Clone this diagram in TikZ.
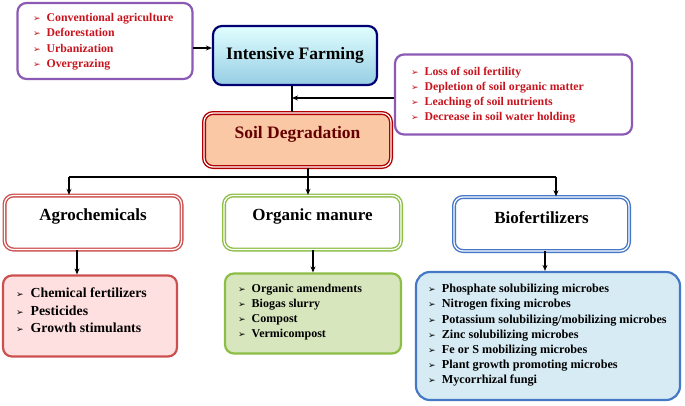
\documentclass[tikz,border=0pt]{standalone}
\usepackage{fontspec}
\setmainfont{Liberation Serif}
\newfontfamily\arrowfont{DejaVu Sans}
\usetikzlibrary{positioning, arrows.meta}
\definecolor{causered}{RGB}{200,20,30}
\definecolor{lilac}{RGB}{140,90,180}
\definecolor{redline}{RGB}{205,80,80}
\definecolor{greenline}{RGB}{140,190,70}
\definecolor{blueline}{RGB}{70,120,200}
\definecolor{peach}{RGB}{250,200,165}
\newcommand{\bul}{{\arrowfont\fontsize{9}{9}\selectfont ➢}\ \ }

\begin{document}
\begin{tikzpicture}[x=1pt, y=-1pt,
        box/.style={rectangle, rounded corners=9pt, line width=2.2pt, inner sep=0pt},
        frame/.style={box, double, double distance=1.2pt, line width=1.4pt, fill=white},
        title/.style={font=\bfseries\fontsize{17}{19}\selectfont},
        list/.style={anchor=north west, align=left, inner sep=0pt},
        arr/.style={-{Stealth[length=6pt,width=5pt]}, line width=1.6pt},
        ln/.style={line width=1.6pt}
    ]
        \useasboundingbox (0,0) rectangle (685,405);
        % causes and effects
        \node[box, draw=lilac, fill=white, minimum width=175pt, minimum height=76pt] (causes) at (105,41) {};
        \node[list, text=causered, font=\bfseries\fontsize{11.8}{15.5}\selectfont] (causetxt) at (33,13)
            {\bul Conventional agriculture\\ \bul Deforestation\\ \bul Urbanization\\ \bul Overgrazing};
        \node[box, draw=blue!45!black, top color=cyan!12, bottom color={rgb,255:red,150;green,205;blue,228}, minimum width=164pt, minimum height=59pt,
              title, font=\bfseries\fontsize{17.5}{19}\selectfont] (farming) at (295,55.5) {Intensive Farming};
        \node[box, draw=lilac, fill=white, minimum width=237pt, minimum height=80pt] (effects) at (513.5,94.5) {};
        \node[list, text=causered, font=\bfseries\fontsize{11.8}{15}\selectfont] (effecttxt) at (411,67)
            {\bul Loss of soil fertility\\ \bul Depletion of soil organic matter\\ \bul Leaching of soil nutrients\\ \bul Decrease in soil water holding};
        \node[frame, draw=red!70!black, fill=peach, minimum width=187pt, minimum height=54pt] (soil) at (297.5,140) {};
        \node[title, text=red!40!black, font=\bfseries\fontsize{17.5}{19}\selectfont] (soiltitle) at (297.5,134) {Soil Degradation};
        % three groups
        \node[frame, draw=redline, minimum width=177pt, minimum height=54pt] (agro) at (93,222.5) {};
        \node[title] (agrotitle) at (93,216) {Agrochemicals};
        \node[frame, draw=greenline, minimum width=177pt, minimum height=54pt] (organic) at (312.5,222.5) {};
        \node[title] (orgtitle) at (312.5,216) {Organic manure};
        \node[frame, draw=blueline, minimum width=175pt, minimum height=54pt] (bio) at (541.5,224) {};
        \node[title] (biotitle) at (541.5,218) {Biofertilizers};
        \node[box, draw=redline, fill=red!12, minimum width=174pt, minimum height=81pt] (agrolist) at (90,316) {};
        \node[list, font=\bfseries\fontsize{13.8}{17.5}\selectfont] (agrotxt) at (16,288)
            {\bul Chemical fertilizers\\ \bul Pesticides\\ \bul Growth stimulants};
        \node[box, draw=greenline, fill={rgb,255:red,215;green,230;blue,188}, minimum width=176pt, minimum height=80pt] (orglist) at (313,313.5) {};
        \node[list, font=\bfseries\fontsize{12}{15}\selectfont] (orgtxt) at (238,284)
            {\bul Organic amendments\\ \bul Biogas slurry\\ \bul Compost\\ \bul Vermicompost};
        \node[box, draw=blueline, fill={rgb,255:red,215;green,235;blue,245}, minimum width=264pt, minimum height=128pt, rounded corners=14pt] (biolist) at (548,336) {};
        \node[list, font=\bfseries\fontsize{12.2}{15.2}\selectfont] (biotxt) at (428,284)
            {\bul Phosphate solubilizing microbes\\ \bul Nitrogen fixing microbes\\ \bul Potassium solubilizing/mobilizing microbes\\ \bul Zinc solubilizing microbes\\ \bul Fe or S mobilizing microbes\\ \bul Plant growth promoting microbes\\ \bul Mycorrhizal fungi};
        % connectors
        \coordinate (join) at (292,98);
        \coordinate (split) at (308,177);
        \coordinate (s1) at (69,177);
        \coordinate (s3) at (556,177);
        \coordinate (c1) at (193,48);
        \draw[arr] (c1) -- (c1 -| farming.west);
        \draw[ln] (farming.south -| join) -- (soil.north -| join);
        \draw[arr] (effects.west |- join) -- (join);
        \draw[ln] (soil.south -| split) -- (split);
        \draw[ln] (s1) -- (s3);
        \draw[arr] (s1) -- (s1 |- agro.north);
        \draw[arr] (split) -- (split |- organic.north);
        \draw[arr] (s3) -- (s3 |- bio.north);
        \coordinate (a1) at (77,250);
        \coordinate (o1) at (313,250);
        \coordinate (b1) at (545,251);
        \draw[arr] (a1) -- (a1 |- agrolist.north);
        \draw[arr] (o1) -- (o1 |- orglist.north);
        \draw[arr] (b1) -- (b1 |- biolist.north);
    \end{tikzpicture}
\end{document}
